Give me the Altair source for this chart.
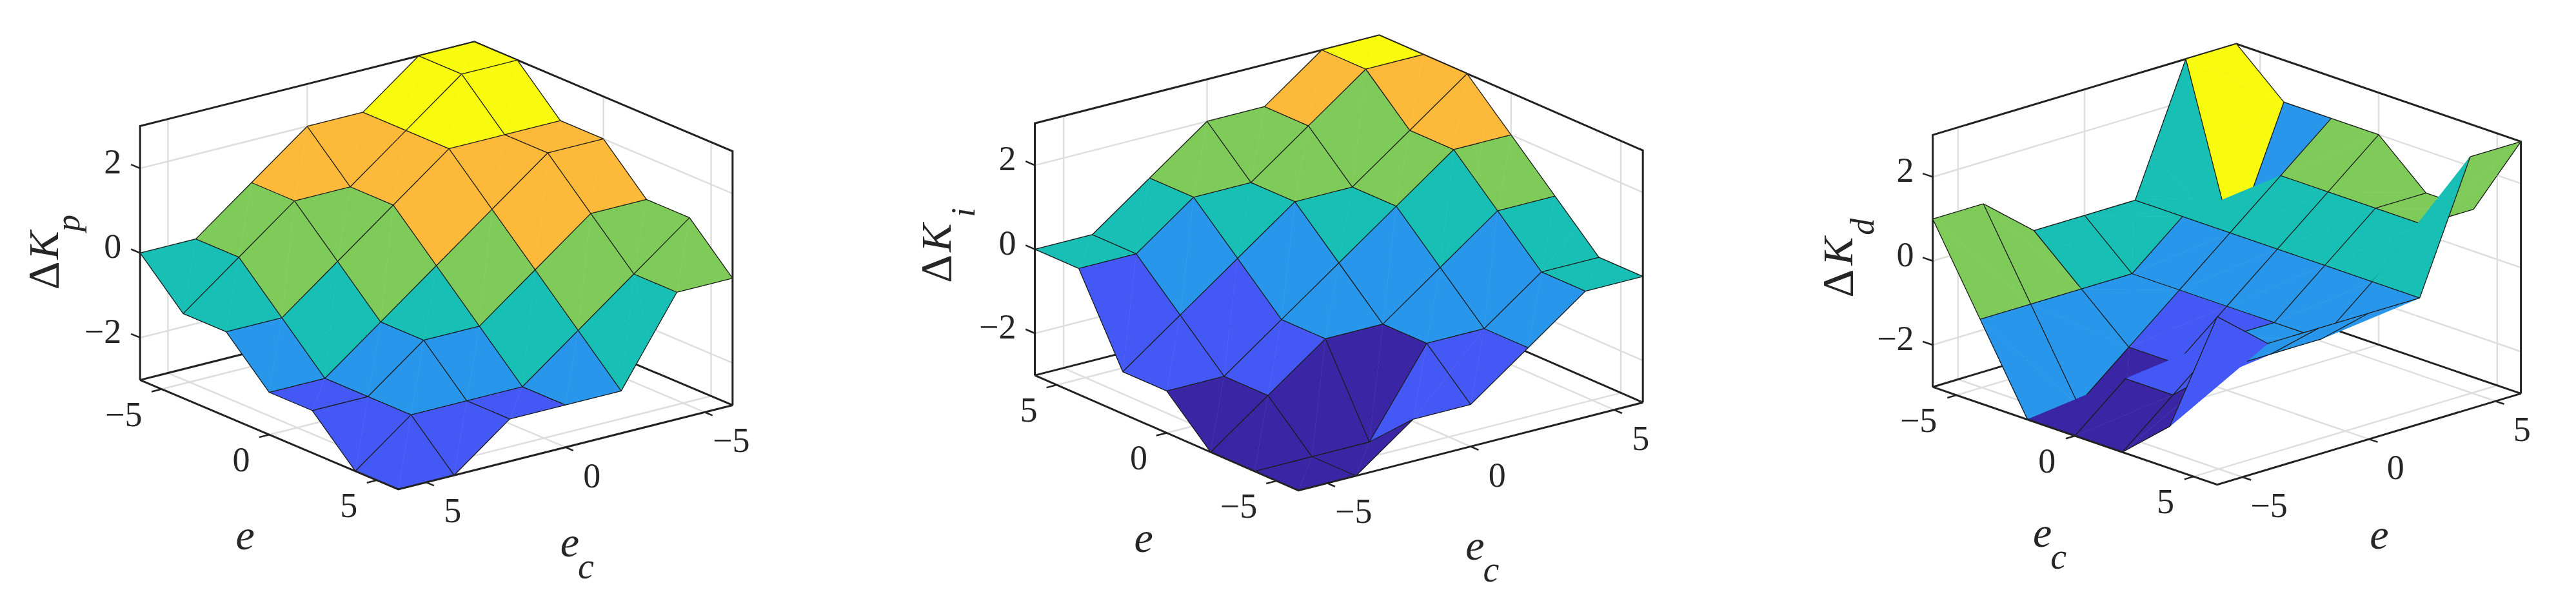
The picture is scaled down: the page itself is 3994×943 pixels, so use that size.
import altair as alt

W, H = 3978, 927
SX = 1300 / 1568  # reading scales used for the panel geometry below
SY = 943 / 1568

GRID = [-6, -4, -2, 0, 2, 4, 6]
TICKS = [-5, 0, 5]
ZTICKS = [-2, 0, 2]

Kp = [[3, 3, 2, 2, 1, 0, 0],
      [3, 3, 2, 1, 1, 0, -1],
      [2, 2, 2, 1, 0, -1, -1],
      [2, 2, 1, 0, -1, -2, -2],
      [1, 1, 0, -1, -1, -2, -2],
      [1, 0, -1, -2, -2, -2, -3],
      [0, 0, -2, -2, -2, -3, -3]]
Ki = [[-3, -3, -2, -2, -1, 0, 0],
      [-3, -3, -3, -1, -1, 0, 0],
      [-3, -2, -1, -1, 0, 1, 1],
      [-2, -2, -1, 0, 1, 2, 2],
      [-2, -1, 0, 1, 1, 2, 3],
      [0, 0, 1, 1, 2, 3, 3],
      [0, 0, 1, 2, 2, 3, 3]]
Kd = [[1, -1, -3, -3, -3, -2, 1],
      [1, -1, -3, -2, -2, -1, 0],
      [0, -1, -2, -2, -1, -1, 0],
      [0, -1, -1, -1, -1, -1, 0],
      [0, 0, 0, 0, 0, 0, 0],
      [3, -1, 1, 1, 1, 1, 3],
      [3, 2, 2, 2, 1, 1, 3]]
LEVEL_COLORS = {-3: "#3A26A4", -2: "#4458F5", -1: "#2896EA", 0: "#17BFB4",
                1: "#7FCB5A", 2: "#FDB93A", 3: "#F9FB0E"}
GRID_COLOR = "#dedede"
BOX_COLOR = "#222222"
EDGE_COLOR = "#1a1a1a"

# Each panel: the view (offset, corners as seen), axis names and directions.
PANELS = [
    dict(table=Kp, off=0, left=(262, 980), right=(1370, 1045), front=(745, 1262), zh=655,
         e_sign=1, ec_sign=1, swap=False, lab_l="e", lab_r="ec", sub="p", sub_dx=-9,
         l_off=(-45, 271), r_off=(8, 257), d=(-177, 58), k=(-177, -20), s=(-122, -77)),
    dict(table=Ki, off=1350, left=(307, 968), right=(1444, 1038), front=(800, 1265), zh=650,
         e_sign=-1, ec_sign=-1, swap=False, lab_l="e", lab_r="ec", sub="i", sub_dx=0,
         l_off=(-43, 282), r_off=(8, 267), d=(-182, 50), k=(-182, -30), s=(-132, -95)),
    dict(table=Kd, off=2694, left=(365, 998), right=(1465, 1015), front=(897, 1250), zh=650,
         e_sign=-1, ec_sign=1, swap=True, lab_l="ec", lab_r="e", sub="d", sub_dx=0,
         l_off=(-61, 261), r_off=(19, 258), d=(-175, 58), k=(-175, -25), s=(-130, -88)),
]


def sub3(a, b): return (a[0]-b[0], a[1]-b[1], a[2]-b[2])
def dot(a, b): return a[0]*b[0]+a[1]*b[1]+a[2]*b[2]
def cross(a, b): return (a[1]*b[2]-a[2]*b[1], a[2]*b[0]-a[0]*b[2], a[0]*b[1]-a[1]*b[0])
EPS = 1e-7


class Node:
    def __init__(self, poly):
        self.n = cross(sub3(poly[1], poly[0]), sub3(poly[2], poly[0]))
        self.d = dot(self.n, poly[0])
        self.polys = []
        self.front = None
        self.back = None


def split_poly(node, pts):
    ds = [dot(node.n, p) - node.d for p in pts]
    f, b = [], []
    for i, p in enumerate(pts):
        q = pts[(i+1) % len(pts)]
        a, c = ds[i], ds[(i+1) % len(pts)]
        if a >= -EPS: f.append(p)
        if a <= EPS: b.append(p)
        if (a > EPS and c < -EPS) or (a < -EPS and c > EPS):
            t = a/(a-c)
            m = tuple(p[k]+(q[k]-p[k])*t for k in range(3))
            f.append(m); b.append(m)
    return f, b, ds


def insert(node, pts, col):
    if node is None:
        node = Node(pts)
        node.polys.append((pts, col))
        return node
    f, b, ds = split_poly(node, pts)
    if all(abs(x) <= EPS for x in ds):
        node.polys.append((pts, col))
        return node
    if len(f) >= 3 and any(x > EPS for x in ds):
        node.front = insert(node.front, f, col)
    if len(b) >= 3 and any(x < -EPS for x in ds):
        node.back = insert(node.back, b, col)
    return node


def walk(node, segs, view, out):
    if node is None:
        out.extend(("seg", s) for s in segs)
        return
    vs = dot(node.n, view)
    pos, neg = [], []
    for s in segs:
        a, c = dot(node.n, s[0])-node.d, dot(node.n, s[1])-node.d
        if (a > EPS and c < -EPS) or (a < -EPS and c > EPS):
            t = a/(a-c)
            m = tuple(s[0][k]+(s[1][k]-s[0][k])*t for k in range(3))
            (pos if a > 0 else neg).append((s[0], m))
            (pos if c > 0 else neg).append((m, s[1]))
        elif a > EPS or c > EPS:
            pos.append(s)
        elif a < -EPS or c < -EPS:
            neg.append(s)
        else:
            (pos if vs > 0 else neg).append(s)
    near, far = (node.front, node.back) if vs > 0 else (node.back, node.front)
    nsegs, fsegs = (pos, neg) if vs > 0 else (neg, pos)
    walk(far, fsegs, view, out)
    out.extend(("poly", p) for p in node.polys)
    walk(near, nsegs, view, out)


features, labels_roman, labels_ital = [], [], []


def line(pts, color, width):
    features.append({"type": "Feature", "properties": {"f": "none", "s": color, "w": width},
                     "geometry": {"type": "LineString", "coordinates": [list(p) for p in pts]}})


def poly(pts, color):
    features.append({"type": "Feature", "properties": {"f": color, "s": color, "w": 0.5},
                     "geometry": {"type": "Polygon", "coordinates": [[list(p) for p in pts] + [list(pts[0])]]}})


for P in PANELS:
    def Z(p):  # reading units to chart pixels
        return ((p[0]*SX + P["off"] - 8), (p[1]*SY - 8))
    L, R, F = Z(P["left"]), Z(P["right"]), Z(P["front"])
    zu = P["zh"]*SY/6
    def proj(a, b, z):
        x = F[0] + (L[0]-F[0])*(1-a) + (R[0]-F[0])*b
        y = F[1] + (L[1]-F[1])*(1-a) + (R[1]-F[1])*b - (z+3)*zu
        return (x, y)
    def ab(e, ec):
        if P["swap"]:
            return ((ec+6)/12, (e+6)/12)
        if P["e_sign"] == 1:
            return ((e+6)/12, (6-ec)/12)
        return ((6-e)/12, (ec+6)/12)

    # grid on back walls and floor
    for t in TICKS:
        f = (t+6)/12
        line([proj(f, 0, -3), proj(f, 1, -3)], GRID_COLOR, 2.5)
        line([proj(0, f, -3), proj(1, f, -3)], GRID_COLOR, 2.5)
        line([proj(f, 1, -3), proj(f, 1, 3)], GRID_COLOR, 2.5)
        line([proj(0, f, -3), proj(0, f, 3)], GRID_COLOR, 2.5)
    for z in ZTICKS:
        line([proj(0, 0, z), proj(0, 1, z), proj(1, 1, z)], GRID_COLOR, 2.5)
    line([proj(0, 0, -3), proj(0, 1, -3), proj(1, 1, -3)], BOX_COLOR, 3)
    line([proj(0, 0, -3), proj(0, 0, 3), proj(0, 1, 3), proj(1, 1, 3), proj(1, 1, -3)], BOX_COLOR, 3)

    # surface, sorted with a BSP tree in (a, b, z) coordinates
    T = P["table"]
    O, A, B, C = proj(0, 0, -3), proj(1, 0, -3), proj(0, 1, -3), proj(0, 0, -2)
    ca = (A[0]-O[0], A[1]-O[1]); cb = (B[0]-O[0], B[1]-O[1]); cz = (C[0]-O[0], C[1]-O[1])
    view = cross((ca[0], cb[0], cz[0]), (ca[1], cb[1], cz[1]))
    if view[2] < 0:
        view = (-view[0], -view[1], -view[2])
    vn = dot(view, view)**0.5
    bias = tuple(v/vn*0.004 for v in view)

    def node3(i, j):
        a, b = ab(GRID[i], GRID[j])
        return (a, b, T[i][j])
    root = None
    segs = []
    for i in range(6):
        for j in range(6):
            col = LEVEL_COLORS[T[i][j]]
            p00, p10, p11, p01 = node3(i, j), node3(i+1, j), node3(i+1, j+1), node3(i, j+1)
            root = insert(root, [p00, p10, p11], col)
            root = insert(root, [p00, p11, p01], col)
    for i in range(7):
        for j in range(7):
            for (u, v) in ((i+1, j), (i, j+1)):
                if u < 7 and v < 7:
                    s0, s1 = node3(i, j), node3(u, v)
                    segs.append((tuple(s0[k]+bias[k] for k in range(3)),
                                 tuple(s1[k]+bias[k] for k in range(3))))
    out = []
    walk(root, segs, view, out)
    for kind, item in out:
        if kind == "poly":
            poly([proj(*p) for p in item[0]], item[1])
        else:
            line([proj(*item[0]), proj(*item[1])], EDGE_COLOR, 1.3)

    line([proj(0, 0, -3), proj(1, 0, -3), proj(1, 1, -3)], BOX_COLOR, 3)
    for t in TICKS:
        f = (t+6)/12
        line([proj(f, 0, -3), proj(f, -0.03, -3)], BOX_COLOR, 2.5)
        line([proj(1, f, -3), proj(1.03, f, -3)], BOX_COLOR, 2.5)
    for z in ZTICKS:
        line([proj(0, 0, z), proj(-0.035, 0, z)], BOX_COLOR, 2.5)

    def tl(v): return str(v).replace("-", "\u2212")
    NUM = 54
    for t in TICKS:
        f = (t+6)/12
        v_l = t if P["e_sign"] == 1 or P["swap"] else -t
        x, y = proj(f, 0, -3)
        labels_roman.append(dict(x=x-30, y=y+41, t=tl(v_l), a="right", size=NUM))
        v_r = (-t if (P["e_sign"] == 1 and not P["swap"]) else t)
        x, y = proj(1, f, -3)
        labels_roman.append(dict(x=x+41, y=y+46, t=tl(v_r), a="center", size=NUM))
    for z in ZTICKS:
        x, y = proj(0, 0, z)
        labels_roman.append(dict(x=x-29, y=y-8, t=tl(z), a="right", size=NUM))

    for which, name, off in (("l", P["lab_l"], P["l_off"]), ("r", P["lab_r"], P["r_off"])):
        mx, my = proj(0.5, 0, -3) if which == "l" else proj(1, 0.5, -3)
        x, y = mx+off[0]*SX, my+off[1]*SY
        labels_ital.append(dict(x=x, y=y-5, t="e", size=66, ang=0))
        if name == "ec":
            labels_ital.append(dict(x=x+25, y=y+32, t="c", size=56, ang=0))
    zx, zy = proj(0, 0, 0)
    labels_roman.append(dict(x=zx+P["d"][0]*SX, y=zy+P["d"][1]*SY, t="\u0394", a="center", size=68, ang=270))
    labels_ital.append(dict(x=zx+P["k"][0]*SX, y=zy+P["k"][1]*SY, t="K", size=66, ang=270))
    labels_ital.append(dict(x=zx+P["s"][0]*SX+P["sub_dx"], y=zy+P["s"][1]*SY, t=P["sub"], size=52, ang=270))

shapes = alt.Chart(alt.Data(values=features)).mark_geoshape().encode(
    fill=alt.Fill("properties.f:N", scale=None),
    stroke=alt.Stroke("properties.s:N", scale=None),
    strokeWidth=alt.StrokeWidth("properties.w:Q", scale=None),
).project(type="identity", scale=1, translate=[0, 0])

FONT = "Liberation Serif"
roman_h = [d for d in labels_roman if "ang" not in d]
roman_v = [d for d in labels_roman if "ang" in d]
ital_h = [d for d in labels_ital if d["ang"] == 0]
ital_v = [d for d in labels_ital if d["ang"] == 270]


def text_layer(rows, align, style, angle=0):
    return alt.Chart(alt.Data(values=rows)).mark_text(
        font=FONT, align=align, baseline="middle", fontStyle=style, angle=angle, color="#262626"
    ).encode(longitude="x:Q", latitude="y:Q", text="t:N",
             size=alt.Size("size:Q", scale=None)
             ).project(type="identity", scale=1, translate=[0, 0])


layers = [shapes,
          text_layer([d for d in roman_h if d["a"] == "right"], "right", "normal"),
          text_layer([d for d in roman_h if d["a"] == "center"], "center", "normal"),
          text_layer(roman_v, "center", "normal", 270),
          text_layer(ital_h, "center", "italic"),
          text_layer(ital_v, "center", "italic", 270)]

chart = alt.layer(*layers).properties(
    width=W, height=H, padding=0, autosize=alt.AutoSizeParams(type="none")
).configure_view(stroke=None)

chart.save("out.html", embed_options={"renderer": "svg", "actions": False})
